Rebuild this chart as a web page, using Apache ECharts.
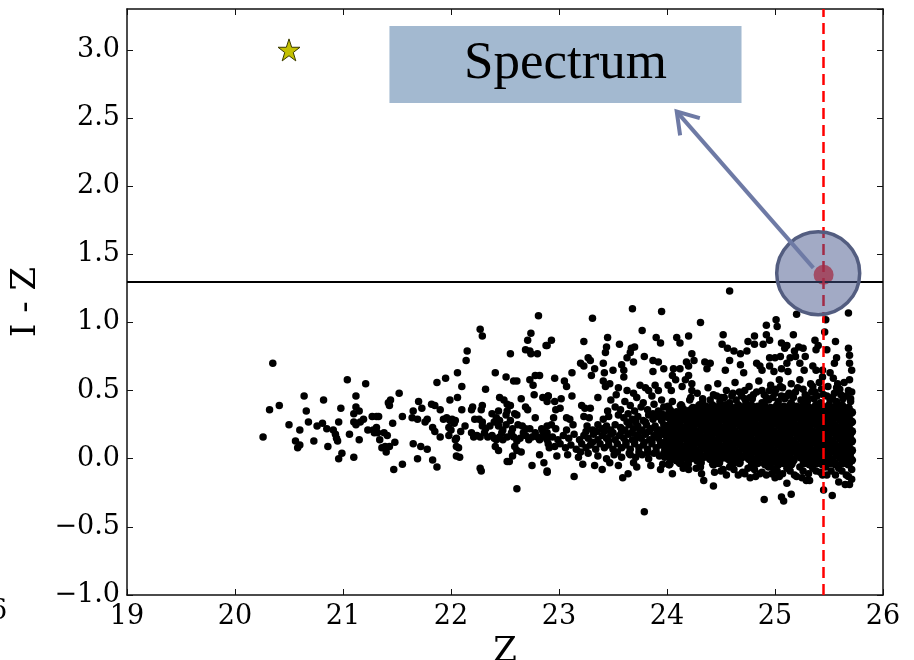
<!DOCTYPE html>
<html>
<head>
<meta charset="utf-8">
<title>I - Z vs Z</title>
<script src="https://cdn.jsdelivr.net/npm/echarts@6/dist/echarts.min.js"></script>
<style>
  html, body { margin: 0; padding: 0; background: #fff; }
  #chart { width: 914px; height: 660px; }
</style>
</head>
<body>
<div id="chart"></div>
<script>
// axis ranges
const zRange = [19, 26];
const izRange = [-1, 3.3];

// annotations
const cutLine = 1.3;
const limitZ = 25.45;
const target = [[25.45, 1.35]];
const targetRing = [[25.40, 1.361]];
const arrowSeg = [[25.355, 1.40, 24.09, 2.547]];
const starPoint = [[20.5, 3.0]];
const spectrumBox = [[21.43, 3.175], [24.69, 2.61]];

// bright end, Z < 22.2
const ptsLeft = [
  [20.35,0.70],[20.26,0.16],[20.32,0.36],[20.41,0.39],[20.50,0.25],[20.60,0.21],[20.56,0.13],[20.60,0.10],[20.58,0.08],
  [20.64,0.46],[20.66,0.35],[20.68,0.27],[20.73,0.13],[20.76,0.24],[20.81,0.26],[20.82,0.43],[20.85,0.22],[20.86,0.09],
  [20.91,0.21],[20.93,0.18],[20.94,0.15],[20.95,0.13],[20.96,0.27],[20.98,0.37],[20.99,0.04],[20.96,0.00],[21.04,0.58],
  [21.06,0.18],[21.10,0.01],[21.10,0.33],[21.12,0.46],[21.12,0.38],[21.15,0.35],[21.10,0.27],[21.12,0.25],[21.16,0.27],
  [21.19,0.29],[21.15,0.14],[21.21,0.55],[21.23,0.21],[21.27,0.31],[21.31,0.31],[21.33,0.31],[21.28,0.21],[21.31,0.23],
  [21.32,0.19],[21.29,0.19],[21.34,0.14],[21.38,0.19],[21.41,0.17],[21.43,0.09],[21.36,0.08],[21.40,0.05],[21.39,0.09],
  [21.42,0.41],[21.44,0.43],[21.43,0.39],[21.46,0.26],[21.48,0.12],[21.47,-0.08],[21.52,0.48],[21.55,0.31],[21.55,-0.04],
  [21.64,0.30],[21.65,0.35],[21.69,0.29],[21.70,0.42],[21.73,0.37],[21.65,0.11],[21.72,0.09],[21.69,0.00],[21.78,0.07],
  [21.76,0.27],[21.78,0.29],[21.82,0.40],[21.85,0.39],[21.83,0.23],[21.85,0.20],[21.90,0.16],[21.87,-0.06],[21.83,-0.01],
  [21.87,0.56],[21.95,0.59],[21.90,0.36],[21.93,0.29],[21.96,0.30],[21.99,0.28],[22.01,0.29],[22.03,0.26],[21.98,0.23],
  [22.00,0.21],[22.04,0.28],[21.98,0.17],[22.05,0.15],[22.07,0.08],[22.05,0.02],[22.08,0.01],[21.99,0.43],[22.06,0.45],
  [22.06,0.63],[22.10,0.53],[22.14,0.72],[22.15,0.79],[22.10,0.36],[22.09,0.20],[22.13,0.24],[22.04,0.14],[22.05,0.09]
];

// 22.2 < Z < 22.95
const ptsMid = [
  [22.27,0.95],[22.29,0.90],[22.32,0.51],[22.41,0.63],[22.51,0.60],[22.58,0.57],[22.61,0.57],[22.55,0.77],[22.81,1.05],
  [22.74,0.92],[22.71,0.87],[22.69,0.80],[22.73,0.79],[22.74,0.77],[22.80,0.77],[22.88,0.83],[22.78,0.61],[22.82,0.61],
  [22.73,0.58],[22.76,0.54],[22.77,0.47],[22.85,0.45],[22.89,0.42],[22.90,0.46],[22.45,0.45],[22.49,0.43],[22.52,0.40],
  [22.55,0.39],[22.65,0.44],[22.69,0.38],[22.71,0.36],[22.20,0.38],[22.19,0.36],[22.29,0.39],[22.28,0.36],[22.38,0.33],
  [22.44,0.35],[22.52,0.35],[22.51,0.32],[22.59,0.33],[22.61,0.32],[22.78,0.30],
  [22.22,0.29],[22.26,0.29],[22.29,0.27],[22.29,0.24],[22.32,0.22],[22.36,0.24],[22.40,0.27],[22.42,0.30],[22.45,0.28],
  [22.44,0.24],[22.48,0.21],[22.51,0.25],[22.55,0.28],[22.57,0.22],[22.62,0.25],[22.66,0.24],[22.69,0.22],[22.73,0.22],
  [22.19,0.19],[22.21,0.16],[22.24,0.17],[22.27,0.16],[22.31,0.19],[22.34,0.16],[22.38,0.17],[22.40,0.15],[22.42,0.14],
  [22.45,0.16],[22.47,0.19],[22.48,0.14],[22.52,0.16],[22.56,0.19],[22.58,0.16],[22.61,0.13],[22.64,0.15],[22.67,0.19],
  [22.69,0.17],[22.72,0.14],[22.75,0.16],[22.78,0.19],[22.80,0.16],[22.82,0.14],[22.85,0.16],[22.89,0.19],[22.89,0.14],
  [22.41,0.09],[22.44,0.06],[22.52,-0.02],[22.54,-0.02],[22.27,-0.07],[22.28,-0.09],[22.59,0.09],[22.61,0.06],[22.57,0.02],
  [22.65,0.05],[22.75,-0.05],[22.82,0.03],[22.86,-0.03],[22.89,-0.10],[22.61,-0.22],[22.84,0.22],[22.85,0.20],[22.89,0.24],
  [22.90,0.11],[22.91,0.08]
];

// scattered red points above the main band
const ptsUpper = [
  [23.68,1.10],[23.95,1.08],[23.31,1.03],[23.77,0.94],[22.93,0.87],[22.89,0.83],[23.23,0.86],[23.45,0.89],[23.44,0.82],
  [23.43,0.78],[23.56,0.84],[23.67,0.81],[23.70,0.82],[23.66,0.78],[23.69,0.71],[23.63,0.74],[23.90,0.89],[23.94,0.85],
  [24.09,0.89],[24.12,0.85],[24.20,0.90],[23.79,0.75],[23.20,0.70],[23.23,0.68],[23.27,0.74],[23.29,0.72],[23.33,0.66],
  [23.30,0.61],[23.41,0.70],[23.42,0.63],[23.50,0.65],[23.58,0.69],[23.60,0.65],[23.60,0.60],[23.12,0.63],[22.96,0.59],
  [23.05,0.57],[23.07,0.53],[23.12,0.46],[23.87,0.72],[23.92,0.71],[23.97,0.66],[23.87,0.64],[24.06,0.66],[24.12,0.66],
  [24.18,0.71],[24.20,0.68],[24.20,0.61],[24.17,0.58],[24.05,0.61],[24.08,0.58],[23.41,0.57],[23.47,0.55],[23.43,0.53],
  [23.55,0.52],[23.63,0.50],[23.69,0.48],[23.75,0.54],[23.80,0.52],[23.83,0.50],[23.89,0.54],[23.92,0.50],[24.01,0.54],
  [24.04,0.50],[24.14,0.53],[24.23,0.55],[24.23,0.50],[23.21,0.39],[23.24,0.37],[23.23,0.31],[23.07,0.30],[23.01,0.37],
  [22.96,0.42],[22.90,0.46],[22.93,0.25],[22.89,0.16],
  [24.58,1.23],[24.31,1.00],[25.20,1.06],[25.68,1.07],[25.47,1.02],[25.46,0.93],[25.01,1.02],[25.02,0.97],[24.92,0.98],
  [24.52,0.91],[24.51,0.84],[24.56,0.81],[24.62,0.79],[24.68,0.77],[24.74,0.79],[24.75,0.86],[24.81,0.90],[24.81,0.84],
  [24.89,0.84],[24.92,0.91],[24.95,0.87],[25.06,0.85],[25.11,0.83],[25.17,0.91],[25.18,0.79],[25.09,0.81],[25.22,0.82],
  [25.26,0.81],[25.28,0.75],[25.19,0.75],[25.14,0.74],[25.05,0.75],[25.00,0.74],[24.95,0.74],[25.37,0.87],[25.40,0.83],
  [25.38,0.80],[25.56,0.86],[25.57,0.74],[25.55,0.70],[25.48,0.80],[25.68,0.81],[25.69,0.76],[25.69,0.70],[25.71,0.65],
  [25.69,0.58],
  [24.23,0.77],[24.25,0.72],[24.35,0.71],[24.40,0.70],[24.37,0.66],[24.54,0.65],[24.58,0.72],[24.68,0.69],[24.71,0.63],
  [24.83,0.70],[24.86,0.68],[24.88,0.65],[24.95,0.68],[24.99,0.64],[25.06,0.66],[25.11,0.70],[25.12,0.64],[25.23,0.70],
  [25.27,0.65],[25.35,0.68],[25.38,0.65],[25.44,0.65],[25.44,0.60],[25.51,0.63],[25.54,0.59]
];

// shelf just above the dense core
const ptsShelf = [
  [24.22,0.45],[24.28,0.48],[24.33,0.44],[24.38,0.52],[24.43,0.47],[24.47,0.55],[24.50,0.45],[24.55,0.50],[24.60,0.46],
  [24.63,0.56],[24.67,0.49],[24.72,0.44],[24.76,0.53],[24.80,0.47],[24.85,0.57],[24.88,0.50],[24.92,0.45],[24.96,0.54],
  [25.00,0.48],[25.04,0.58],[25.07,0.52],[25.11,0.46],[25.15,0.55],[25.19,0.49],[25.23,0.58],[25.26,0.51],[25.30,0.45],
  [25.33,0.55],[25.37,0.49],[25.41,0.56],[25.45,0.47],[25.49,0.53],[25.53,0.45],[25.57,0.52],[25.61,0.47],[25.64,0.56],
  [25.68,0.50],[25.70,0.44]
];

// 22.9 < Z < 24.0 band
const ptsBand = [
  [23.02,0.44],[23.36,0.45],[23.48,0.43],[23.53,0.47],[23.61,0.42],[23.72,0.45],[23.78,0.41],[23.86,0.46],[23.95,0.43],
  [22.97,0.36],[23.29,0.37],[23.45,0.35],[23.52,0.38],[23.57,0.36],[23.66,0.39],[23.70,0.35],[23.76,0.38],[23.82,0.36],
  [23.88,0.40],[23.92,0.35],[23.97,0.38],
  [22.95,0.30],[23.10,0.29],[23.28,0.30],[23.41,0.29],[23.46,0.31],[23.55,0.32],[23.60,0.30],[23.64,0.33],[23.68,0.29],
  [23.73,0.31],[23.78,0.28],[23.83,0.32],[23.87,0.29],[23.91,0.31],[23.95,0.28],[23.99,0.32],
  [22.97,0.22],[23.07,0.21],[23.13,0.25],[23.26,0.24],[23.31,0.21],[23.36,0.25],[23.40,0.22],[23.44,0.24],[23.48,0.21],
  [23.52,0.25],[23.57,0.23],[23.61,0.21],[23.65,0.25],[23.69,0.22],[23.73,0.24],[23.77,0.21],[23.81,0.25],[23.85,0.22],
  [23.89,0.24],[23.93,0.21],[23.97,0.25],
  [22.94,0.16],[22.99,0.14],[23.04,0.17],[23.09,0.15],[23.14,0.18],[23.19,0.14],[23.23,0.17],[23.27,0.15],[23.32,0.18],
  [23.36,0.14],[23.40,0.17],[23.44,0.15],[23.48,0.18],[23.52,0.14],[23.56,0.17],[23.60,0.15],[23.64,0.18],[23.68,0.14],
  [23.72,0.17],[23.76,0.15],[23.80,0.18],[23.84,0.14],[23.88,0.17],[23.92,0.15],[23.96,0.18],
  [22.96,0.09],[23.01,0.11],[23.06,0.08],[23.11,0.10],[23.16,0.07],[23.21,0.11],[23.25,0.08],[23.29,0.10],[23.34,0.07],
  [23.38,0.11],[23.42,0.08],[23.46,0.10],[23.50,0.07],[23.54,0.11],[23.58,0.08],[23.62,0.10],[23.66,0.07],[23.70,0.11],
  [23.74,0.08],[23.78,0.10],[23.82,0.07],[23.86,0.11],[23.90,0.08],[23.94,0.10],[23.98,0.07],
  [22.98,0.02],[23.08,0.03],[23.18,0.01],[23.27,0.04],[23.36,0.02],[23.44,0.00],[23.51,0.03],[23.58,0.01],[23.65,0.04],
  [23.71,0.01],[23.77,0.03],[23.83,0.00],[23.88,0.04],[23.93,0.02],[23.98,0.01],
  [23.22,-0.04],[23.47,-0.03],[23.55,-0.05],[23.69,-0.03],[23.85,-0.05],[23.96,-0.04],
  [23.42,0.20],[23.46,0.13],[23.50,0.19],[23.54,0.05],[23.58,0.20],[23.62,0.12],[23.63,0.27],[23.66,0.03],[23.67,0.19],
  [23.70,0.13],[23.71,0.27],[23.74,0.05],[23.75,0.20],[23.79,0.12],[23.80,0.27],[23.82,0.04],[23.83,0.20],[23.86,0.13],
  [23.87,0.33],[23.90,0.05],[23.91,0.20],[23.94,0.12],[23.95,0.33],[23.97,0.04],[23.98,0.21],[23.99,0.13],[23.35,0.20],
  [23.31,0.12],[23.25,0.20],[23.20,0.05]
];

// ragged top and bottom edges of the faint end
const ptsCoreEdge = [
  [24.05,0.42],[24.21,0.43],[24.33,0.41],[24.40,0.43],[24.49,0.42],[24.58,0.41],[24.64,0.43],[24.73,0.42],[24.79,0.44],
  [24.88,0.41],[24.94,0.43],[25.03,0.42],[25.09,0.44],[25.15,0.41],[25.24,0.43],[25.30,0.42],[25.36,0.44],[25.42,0.41],
  [25.51,0.43],[25.57,0.42],[25.63,0.44],[25.70,0.42],
  [24.46,0.46],[24.53,0.45],[24.61,0.48],[24.69,0.46],[24.77,0.45],[24.83,0.49],[24.90,0.47],[24.98,0.45],[25.01,0.51],
  [25.06,0.46],[25.13,0.48],[25.17,0.45],[25.21,0.52],[25.28,0.47],[25.34,0.49],[25.39,0.46],[25.43,0.51],[25.48,0.46],
  [25.55,0.48],[25.60,0.51],[25.66,0.46],[25.71,0.49],[25.05,0.53],[25.35,0.53],[25.58,0.55],[24.95,0.50],[24.72,0.50],
  [24.15,-0.07],[24.27,-0.07],[24.58,-0.06],[24.75,-0.07],[24.94,-0.06],[24.99,-0.08],[25.11,-0.07],[25.23,-0.06],
  [25.35,-0.07],[25.47,-0.06],[25.59,-0.07],[25.71,-0.08],
  [24.50,-0.09],[24.62,-0.08],[24.70,-0.10],[24.81,-0.08],[24.88,-0.10],[24.97,-0.11],[25.02,-0.09],[25.07,-0.11],
  [25.14,-0.09],[25.18,-0.12],[25.26,-0.09],[25.31,-0.11],[25.38,-0.09],[25.44,-0.12],[25.52,-0.09],[25.56,-0.12],
  [25.62,-0.09],[25.68,-0.13],[25.71,-0.15],[25.25,-0.14],[25.00,-0.14],[24.82,-0.13]
];

// packed faint end, 24.0 < Z < 25.72 (drawn with a larger dot so overlaps read solid)
const ptsCore = [
  [24.01,0.38],[24.13,0.39],[24.24,0.37],[24.30,0.39],[24.36,0.38],[24.42,0.39],[24.48,0.38],[24.54,0.39],[24.60,0.37],
  [24.66,0.39],[24.72,0.38],[24.78,0.39],[24.84,0.38],[24.90,0.39],[24.96,0.37],[25.02,0.39],[25.08,0.38],[25.14,0.39],
  [25.20,0.38],[25.26,0.39],[25.32,0.37],[25.38,0.39],[25.44,0.38],[25.50,0.39],[25.56,0.38],[25.62,0.39],[25.68,0.37],
  [24.03,0.35],[24.09,0.34],[24.15,0.36],[24.21,0.35],[24.27,0.34],[24.33,0.36],[24.39,0.35],[24.45,0.34],[24.51,0.36],
  [24.57,0.35],[24.63,0.34],[24.69,0.36],[24.75,0.35],[24.81,0.34],[24.87,0.36],[24.93,0.35],[24.99,0.34],[25.05,0.36],
  [25.11,0.35],[25.17,0.34],[25.23,0.36],[25.29,0.35],[25.35,0.34],[25.41,0.36],[25.47,0.35],[25.53,0.34],[25.59,0.36],
  [25.65,0.35],[25.71,0.34],
  [24.00,0.31],[24.06,0.32],[24.12,0.31],[24.18,0.32],[24.24,0.30],[24.30,0.32],[24.36,0.31],[24.42,0.32],[24.48,0.31],
  [24.54,0.32],[24.60,0.30],[24.66,0.32],[24.72,0.31],[24.78,0.32],[24.84,0.31],[24.90,0.32],[24.96,0.30],[25.02,0.32],
  [25.08,0.31],[25.14,0.32],[25.20,0.31],[25.26,0.32],[25.32,0.30],[25.38,0.32],[25.44,0.31],[25.50,0.32],[25.56,0.31],
  [25.62,0.32],[25.68,0.30],
  [24.04,0.28],[24.09,0.27],[24.16,0.29],[24.21,0.28],[24.28,0.27],[24.33,0.29],[24.40,0.28],[24.45,0.27],[24.52,0.29],
  [24.57,0.28],[24.64,0.27],[24.69,0.29],[24.76,0.28],[24.81,0.27],[24.88,0.29],[24.93,0.28],[25.00,0.27],[25.05,0.29],
  [25.12,0.28],[25.17,0.27],[25.24,0.29],[25.29,0.28],[25.36,0.27],[25.41,0.29],[25.48,0.28],[25.53,0.27],[25.60,0.29],
  [25.65,0.28],[25.71,0.27],
  [24.01,0.24],[24.07,0.25],[24.12,0.24],[24.19,0.25],[24.24,0.24],[24.31,0.25],[24.36,0.24],[24.43,0.25],[24.48,0.24],
  [24.55,0.25],[24.60,0.24],[24.67,0.25],[24.72,0.24],[24.79,0.25],[24.84,0.24],[24.91,0.25],[24.96,0.24],[25.03,0.25],
  [25.08,0.24],[25.15,0.25],[25.20,0.24],[25.27,0.25],[25.32,0.24],[25.39,0.25],[25.44,0.24],[25.51,0.25],[25.56,0.24],
  [25.63,0.25],[25.68,0.24],
  [24.03,0.21],[24.10,0.20],[24.15,0.22],[24.22,0.21],[24.27,0.20],[24.34,0.22],[24.39,0.21],[24.46,0.20],[24.51,0.22],
  [24.58,0.21],[24.63,0.20],[24.70,0.22],[24.75,0.21],[24.82,0.20],[24.87,0.22],[24.94,0.21],[24.99,0.20],[25.06,0.22],
  [25.11,0.21],[25.18,0.20],[25.23,0.22],[25.30,0.21],[25.35,0.20],[25.42,0.22],[25.47,0.21],[25.54,0.20],[25.59,0.22],
  [25.66,0.21],[25.71,0.20],
  [24.00,0.17],[24.06,0.18],[24.13,0.17],[24.18,0.18],[24.25,0.17],[24.30,0.18],[24.37,0.17],[24.42,0.18],[24.49,0.17],
  [24.54,0.18],[24.61,0.17],[24.66,0.18],[24.73,0.17],[24.78,0.18],[24.85,0.17],[24.90,0.18],[24.97,0.17],[25.02,0.18],
  [25.09,0.17],[25.14,0.18],[25.21,0.17],[25.26,0.18],[25.33,0.17],[25.38,0.18],[25.45,0.17],[25.50,0.18],[25.57,0.17],
  [25.62,0.18],[25.69,0.17],
  [24.04,0.14],[24.09,0.13],[24.16,0.15],[24.21,0.14],[24.28,0.13],[24.33,0.15],[24.40,0.14],[24.45,0.13],[24.52,0.15],
  [24.57,0.14],[24.64,0.13],[24.69,0.15],[24.76,0.14],[24.81,0.13],[24.88,0.15],[24.93,0.14],[25.00,0.13],[25.05,0.15],
  [25.12,0.14],[25.17,0.13],[25.24,0.15],[25.29,0.14],[25.36,0.13],[25.41,0.15],[25.48,0.14],[25.53,0.13],[25.60,0.15],
  [25.65,0.14],[25.71,0.13],
  [24.01,0.10],[24.07,0.11],[24.12,0.10],[24.19,0.11],[24.24,0.10],[24.31,0.11],[24.36,0.10],[24.43,0.11],[24.48,0.10],
  [24.55,0.11],[24.60,0.10],[24.67,0.11],[24.72,0.10],[24.79,0.11],[24.84,0.10],[24.91,0.11],[24.96,0.10],[25.03,0.11],
  [25.08,0.10],[25.15,0.11],[25.20,0.10],[25.27,0.11],[25.32,0.10],[25.39,0.11],[25.44,0.10],[25.51,0.11],[25.56,0.10],
  [25.63,0.11],[25.68,0.10],
  [24.03,0.07],[24.10,0.06],[24.15,0.08],[24.22,0.07],[24.27,0.06],[24.34,0.08],[24.39,0.07],[24.46,0.06],[24.51,0.08],
  [24.58,0.07],[24.63,0.06],[24.70,0.08],[24.75,0.07],[24.82,0.06],[24.87,0.08],[24.94,0.07],[24.99,0.06],[25.06,0.08],
  [25.11,0.07],[25.18,0.06],[25.23,0.08],[25.30,0.07],[25.35,0.06],[25.42,0.08],[25.47,0.07],[25.54,0.06],[25.59,0.08],
  [25.66,0.07],[25.71,0.06],
  [24.00,0.03],[24.06,0.04],[24.13,0.03],[24.18,0.04],[24.25,0.03],[24.30,0.04],[24.37,0.03],[24.42,0.04],[24.49,0.03],
  [24.54,0.04],[24.61,0.03],[24.66,0.04],[24.73,0.03],[24.78,0.04],[24.85,0.03],[24.90,0.04],[24.97,0.03],[25.02,0.04],
  [25.09,0.03],[25.14,0.04],[25.21,0.03],[25.26,0.04],[25.33,0.03],[25.38,0.04],[25.45,0.03],[25.50,0.04],[25.57,0.03],
  [25.62,0.04],[25.69,0.03],
  [24.04,0.00],[24.09,-0.01],[24.16,0.01],[24.21,0.00],[24.28,-0.01],[24.33,0.01],[24.40,0.00],[24.45,-0.01],[24.52,0.01],
  [24.57,0.00],[24.64,-0.01],[24.69,0.01],[24.76,0.00],[24.81,-0.01],[24.88,0.01],[24.93,0.00],[25.00,-0.01],[25.05,0.01],
  [25.12,0.00],[25.17,-0.01],[25.24,0.01],[25.29,0.00],[25.36,-0.01],[25.41,0.01],[25.48,0.00],[25.53,-0.01],[25.60,0.01],
  [25.65,0.00],[25.71,-0.01],
  [24.02,-0.04],[24.12,-0.03],[24.19,-0.04],[24.31,-0.03],[24.43,-0.04],[24.48,-0.03],[24.60,-0.04],[24.67,-0.03],
  [24.79,-0.04],[24.84,-0.03],[24.91,-0.04],[24.96,-0.03],[25.03,-0.04],[25.08,-0.03],[25.15,-0.04],[25.27,-0.03],
  [25.32,-0.04],[25.39,-0.03],[25.44,-0.04],[25.51,-0.03],[25.56,-0.04],[25.63,-0.03],[25.68,-0.04]
];

// lower fringe
const ptsLower = [
  [22.89,-0.09],[23.14,-0.13],[23.33,-0.05],[23.40,-0.08],[23.59,-0.14],[23.64,-0.11],[23.72,-0.06],[23.79,-0.39],
  [23.94,-0.08],[24.05,-0.11],[24.20,-0.08],[24.43,-0.20],[24.90,-0.30],[25.06,-0.28],[25.08,-0.31],[25.15,-0.26],
  [25.45,-0.23],[25.53,-0.27],[25.69,-0.19],[25.65,-0.19],[25.59,-0.17],[25.29,-0.16],[25.32,-0.16],[24.31,-0.06],
  [24.32,-0.11],[24.34,-0.16],[24.44,-0.10],[24.52,-0.08],[24.55,-0.12],[24.66,-0.12],[24.72,-0.11],[24.77,-0.14],
  [24.86,-0.11],[24.92,-0.12],[25.04,-0.13],[25.11,-0.18],[25.20,-0.13],[25.42,-0.10],[25.48,-0.12],[25.66,-0.12]
];

const serif = 'DejaVu Serif';
const frameLine = { show: true, onZero: false, lineStyle: { color: '#111', width: 1.5 } };
const innerTick = { show: true, inside: true, length: 6, lineStyle: { color: '#111', width: 1 } };

function renderArrow(params, api) {
  const from = api.coord([api.value(0), api.value(1)]);
  const to = api.coord([api.value(2), api.value(3)]);
  const ang = Math.atan2(from[1] - to[1], from[0] - to[0]);
  const len = 24, spread = 33 * Math.PI / 180;
  const a1 = [to[0] + len * Math.cos(ang + spread), to[1] + len * Math.sin(ang + spread)];
  const a2 = [to[0] + len * Math.cos(ang - spread), to[1] + len * Math.sin(ang - spread)];
  const style = { stroke: '#6e7aa5', lineWidth: 4, fill: null, lineJoin: 'miter' };
  return {
    type: 'group',
    children: [
      { type: 'line', shape: { x1: from[0], y1: from[1], x2: to[0], y2: to[1] }, style: style },
      { type: 'polyline', shape: { points: [a1, to, a2] }, style: style }
    ]
  };
}

const chart = echarts.init(document.getElementById('chart'));
chart.setOption({
  animation: false,
  backgroundColor: '#fff',
  grid: { left: 127, right: 31, top: 9, bottom: 65, containLabel: false, outerBoundsMode: 'none' },
  graphic: [
    { type: 'text', x: -10, y: 598, style: { text: '6', font: '27px "DejaVu Serif"', fill: '#000' } }
  ],
  xAxis: [
    {
      type: 'value', min: zRange[0], max: zRange[1], interval: 1, position: 'bottom',
      name: 'Z', nameLocation: 'middle', nameGap: 36,
      nameTextStyle: { fontFamily: serif, fontSize: 34, color: '#000' },
      axisLine: frameLine, axisTick: innerTick, splitLine: { show: false },
      axisLabel: { fontFamily: serif, fontSize: 27, color: '#000', margin: 8 }
    },
    {
      type: 'value', min: zRange[0], max: zRange[1], interval: 1, position: 'top',
      axisLine: frameLine, axisTick: innerTick, splitLine: { show: false }, axisLabel: { show: false }
    }
  ],
  yAxis: [
    {
      type: 'value', min: izRange[0], max: izRange[1], interval: 0.5, position: 'left',
      name: 'I - Z', nameLocation: 'middle', nameGap: 82,
      nameTextStyle: { fontFamily: serif, fontSize: 34, color: '#000' },
      axisLine: frameLine, axisTick: innerTick, splitLine: { show: false },
      axisLabel: {
        fontFamily: serif, fontSize: 27, color: '#000', margin: 7, showMaxLabel: false,
        formatter: v => (v < 0 ? '\u2212' : '') + Math.abs(v).toFixed(1)
      }
    },
    {
      type: 'value', min: izRange[0], max: izRange[1], interval: 0.5, position: 'right',
      axisLine: frameLine, axisTick: innerTick, splitLine: { show: false }, axisLabel: { show: false }
    }
  ],
  series: [
    {
      name: 'objects', type: 'scatter', z: 2, silent: true, progressive: 0,
      symbolSize: 7.5, itemStyle: { color: '#000', opacity: 1 },
      data: [].concat(ptsLeft, ptsMid, ptsUpper, ptsShelf, ptsBand, ptsCoreEdge, ptsLower)
    },
    {
      name: 'objects dense', type: 'scatter', z: 2, silent: true, progressive: 0,
      symbolSize: 9, itemStyle: { color: '#000', opacity: 1 },
      data: ptsCore
    },
    {
      name: 'target', type: 'scatter', z: 3, silent: true,
      symbolSize: 20, itemStyle: { color: '#ff4540', opacity: 1 },
      data: target,
      markLine: {
        silent: true, symbol: ['none', 'none'], label: { show: false }, emphasis: { disabled: true },
        data: [
          { yAxis: cutLine, lineStyle: { color: '#000', width: 2, type: 'solid' } },
          { xAxis: limitZ, lineStyle: { color: '#f00', width: 2.5, type: [11, 6] } }
        ]
      }
    },
    {
      name: 'ring', type: 'scatter', z: 5, silent: true,
      symbolSize: 83,
      itemStyle: { color: 'rgba(70,85,140,0.5)', borderColor: '#535d80', borderWidth: 3.5, opacity: 1 },
      data: targetRing
    },
    {
      name: 'arrow', type: 'custom', z: 6, silent: true, clip: false,
      encode: { x: [0, 2], y: [1, 3] },
      renderItem: renderArrow,
      data: arrowSeg
    },
    {
      name: 'star', type: 'scatter', z: 4, silent: true,
      symbol: 'path://M50 0 L61.8 35.1 L98.8 35.1 L68.9 57 L80.2 92 L50 70.5 L19.8 92 L31.1 57 L1.2 35.1 L38.2 35.1 Z',
      symbolSize: 22,
      itemStyle: { color: '#c4c000', borderColor: '#3a3a00', borderWidth: 1, opacity: 1 },
      data: starPoint,
      markArea: {
        silent: true, emphasis: { disabled: true },
        itemStyle: { color: '#a3b9d0', opacity: 1 },
        label: { show: true, position: 'inside', fontFamily: 'Liberation Serif', fontSize: 53, color: '#000' },
        data: [[{ name: 'Spectrum', coord: spectrumBox[0] }, { coord: spectrumBox[1] }]]
      }
    }
  ]
});
</script>
</body>
</html>
